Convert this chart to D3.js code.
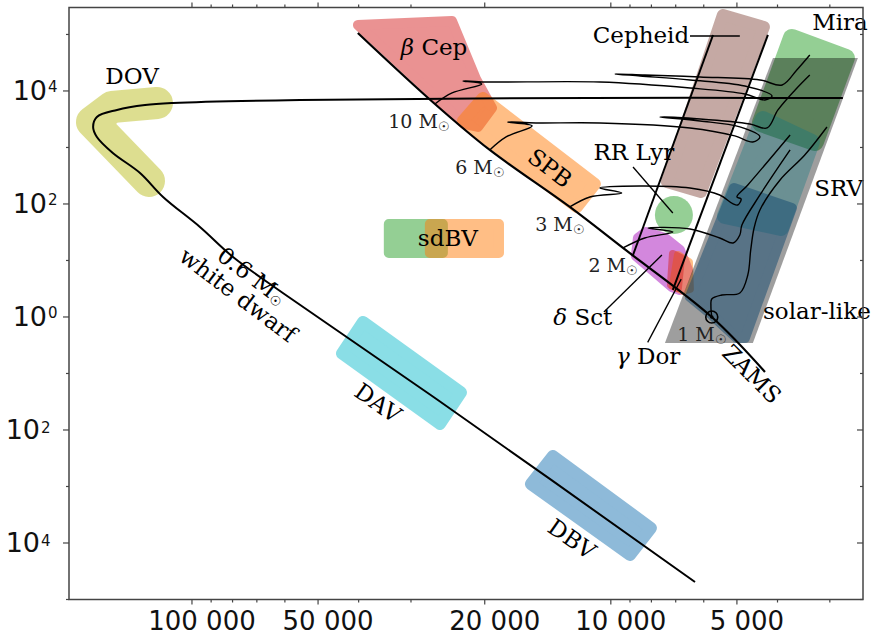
<!DOCTYPE html>
<html>
<head>
<meta charset="utf-8">
<script src="https://cdn.jsdelivr.net/npm/d3@7"></script>
<style>
  body { margin: 0; background: #fff; }
  svg { display: block; }
</style>
</head>
<body>
<svg id="chart" width="873" height="637"></svg>
<script>
// ---- Axis ticks -------------------------------------------------------
const xTickTeff = [100000, 50000, 20000, 10000, 5000];
const xTickText = ["100 000", "50 000", "20 000", "10 000", "5 000"];
const yTickExp = [4, 2, 0, -2, -4];
const yTickSup = ["4", "2", "0", "2", "4"];

// ---- Lines: [log10 Teff, log10 L/Lsun] ---------------------------------
const zams = [[4.604, 5.027], [4.420, 3.770], [4.289, 2.956], [4.098, 1.947],
              [3.971, 1.221], [3.759, 0.0], [3.632, -0.973]];
const zamsMasses = ["10", "6", "3", "2", "1"];
const zamsMassAt = [[4.420, 3.770], [4.289, 2.956], [4.098, 1.947], [3.971, 1.221], [3.759, 0.0]];

const track10 = [[4.420, 3.770], [4.379, 3.965], [4.308, 4.124], [4.353, 4.177], [4.300, 4.159],
  [4.026, 4.159], [3.811, 4.053], [3.680, 3.947], [3.632, 3.841], [3.615, 3.912], [3.680, 4.088],
  [3.811, 4.195], [3.930, 4.265], [3.990, 4.301], [3.919, 4.283], [3.787, 4.248], [3.644, 4.195],
  [3.591, 4.106], [3.556, 4.372], [3.525, 4.637]];
const track6 = [[4.289, 2.956], [4.250, 3.186], [4.188, 3.381], [4.246, 3.451], [4.179, 3.434],
  [4.026, 3.434], [3.811, 3.345], [3.704, 3.204], [3.661, 3.097], [3.644, 3.186], [3.692, 3.363],
  [3.787, 3.469], [3.883, 3.540], [3.787, 3.504], [3.668, 3.416], [3.627, 3.345], [3.601, 3.664],
  [3.560, 4.018], [3.525, 4.283]];
const track3 = [[4.098, 1.947], [4.050, 2.124], [3.974, 2.195], [4.026, 2.283], [3.930, 2.319],
  [3.811, 2.283], [3.740, 2.159], [3.708, 2.000], [3.697, 1.982], [3.689, 2.088], [3.699, 2.124],
  [3.673, 2.336], [3.572, 3.221]];
const track2 = [[3.971, 1.221], [3.919, 1.398], [3.852, 1.504], [3.911, 1.575], [3.811, 1.558],
  [3.740, 1.398], [3.708, 1.310], [3.692, 1.451], [3.687, 1.628], [3.644, 2.159], [3.572, 2.956]];
const track1 = [[3.759, 0.0], [3.761, 0.195], [3.759, 0.319], [3.735, 0.389], [3.692, 0.425],
  [3.673, 0.743], [3.666, 1.186], [3.658, 1.575], [3.644, 1.894], [3.596, 2.425], [3.537, 2.867],
  [3.484, 3.363]];
// 0.6 Msun post-AGB and white-dwarf cooling track
const wdTrack = [[3.446, 3.876], [4.050, 3.876], [4.742, 3.841], [5.045, 3.788], [5.112, 3.752],
  [5.179, 3.664], [5.227, 3.540], [5.236, 3.363], [5.227, 3.186], [5.189, 2.903], [5.124, 2.549],
  [5.069, 2.124], [4.981, 1.593], [4.902, 1.062], [4.783, 0.425], [4.413, -1.469], [3.799, -4.690]];

// Classical instability strip edges
const blueEdge = [[3.756, 4.991], [3.947, 1.097]];
const redEdge = [[3.625, 4.991], [3.852, 0.478]];

// Label leader lines
const cepheidLeader = [[3.811, 4.973], [3.692, 4.973]];
const rrLyrLeader = [[3.947, 2.655], [3.852, 1.841]];
const dSctLeader = [[4.0165, 0.088], [3.878, 1.097]];
const gDorLeader = [[3.912, -0.450], [3.832, 0.670]];

// ---- Pulsator regions ------------------------------------------------
const dovPath = [[5.0836, 3.788], [5.191, 3.717], [5.2387, 3.451], [5.1026, 2.407]];
const davBox = [[4.5918, -0.088], [4.3578, -1.336], [4.408, -1.894], [4.6419, -0.646]];
const dbvBox = [[4.1382, -2.460], [3.9043, -3.735], [3.9544, -4.212], [4.1907, -2.956]];
const bCepBox = [[4.6037, 5.168], [4.3793, 5.239], [4.322, 4.212], [4.2838, 3.699],
                 [4.3173, 3.363], [4.3507, 3.416], [4.4032, 3.788]];
const spbBox = [[4.3053, 3.876], [4.038, 2.354], [4.081, 1.947], [4.3531, 3.469]];
const sdbvGreen = [[4.530, 1.646], [4.401, 1.646], [4.401, 1.133], [4.530, 1.133]];
const sdbvOrange = [[4.432, 1.646], [4.267, 1.646], [4.267, 1.133], [4.432, 1.133]];
const cepheidBox = [[3.7324, 5.345], [3.6345, 5.133], [3.7849, 2.212], [3.8661, 2.389]];
const rrLyrCentre = [3.8494, 1.805];
const dSctBox = [[3.9162, 1.504], [3.8708, 1.398], [3.835, 1.186], [3.8159, 0.832], [3.835, 0.478],
                 [3.8541, 0.531], [3.9401, 1.080], [3.9353, 1.398]];
const gDorOrange = [[3.8398, 1.097], [3.8135, 0.973], [3.8112, 0.496], [3.8279, 0.460], [3.8517, 0.549]];
const gDorRed = [[3.8517, 1.115], [3.8327, 1.044], [3.8398, 0.513], [3.8565, 0.566]];
const miraBox = [[3.5677, 4.938], [3.4388, 4.584], [3.5128, 3.097], [3.6417, 3.434]];
const srvBox = [[3.6369, 3.504], [3.520, 3.097], [3.594, 1.575], [3.7277, 1.788]];
const solarBox = [[3.7061, 2.283], [3.5677, 1.929], [3.6799, -0.372], [3.699, -0.372],
                  [3.7587, 0.035], [3.8112, 0.354]];
const coolBand = [[3.8708, -0.460], [3.6608, -0.460], [3.4102, 4.584], [3.613, 4.584]];

// ---- Region names -----------------------------------------------------
const labels = [
  { greek: "", text: "DOV", at: [5.143, 4.124] },
  { greek: "β", text: " Cep", at: [4.422, 4.637] },
  { greek: "", text: "Cepheid", at: [3.928, 4.850] },
  { greek: "", text: "Mira", at: [3.453, 5.080] },
  { greek: "", text: "RR Lyr", at: [3.945, 2.779] },
  { greek: "", text: "SPB", at: [4.1454, 2.637], rot: 37 },
  { greek: "", text: "SRV", at: [3.456, 2.142] },
  { greek: "", text: "sdBV", at: [4.389, 1.257] },
  { greek: "δ", text: " Sct", at: [4.067, -0.142] },
  { greek: "γ", text: " Dor", at: [3.911, -0.832] },
  { greek: "", text: "solar-like", at: [3.508, -0.035] },
  { greek: "", text: "ZAMS", at: [3.6632, -1.009], rot: 45 },
  { greek: "", text: "DAV", at: [4.556, -1.522], rot: 35 },
  { greek: "", text: "DBV", at: [4.0929, -3.929], rot: 35 },
  { greek: "", text: "white dwarf", at: [4.8902, 0.389], rot: 37 }
];
const wdMassLabel = { text: "0.6 M", at: [4.8568, 0.726], rot: 37 };

// ---- Scales -----------------------------------------------------------
const X0 = 69, X1 = 863, Y0 = 7.5, Y1 = 599.5;
const x = d3.scaleLinear().domain([Math.log10(196600), Math.log10(2500)]).range([X0, X1]);
const y = d3.scaleLinear().domain([-5, Math.log10(3e5)]).range([Y1, Y0]);

const svg = d3.select("#chart");
const line = d3.line().x(d => x(d[0])).y(d => y(d[1]));
const smooth = d3.line().x(d => x(d[0])).y(d => y(d[1])).curve(d3.curveCatmullRom.alpha(0.5));

const SERIF = "'DejaVu Serif', serif";
const SANS = "'DejaVu Sans', sans-serif";

// Translucent region with rounded corners
function region(pts, color, op, r) {
  const g = svg.append("g").attr("opacity", op);
  g.append("path")
    .attr("d", line(pts) + "Z")
    .attr("fill", color)
    .attr("stroke", color)
    .attr("stroke-width", 2 * r)
    .attr("stroke-linejoin", "round");
}

// DOV: broad rounded band along the knee of the track
svg.append("g").attr("opacity", 0.5)
  .append("path").attr("d", line(dovPath))
  .attr("fill", "none").attr("stroke", "#bcbd22").attr("stroke-width", 32)
  .attr("stroke-linecap", "round").attr("stroke-linejoin", "round");

region(davBox, "#17becf", 0.5, 6);
region(dbvBox, "#1f77b4", 0.5, 6);
region(bCepBox, "#d62728", 0.5, 5);
region(spbBox, "#ff7f0e", 0.5, 6);
region(sdbvGreen, "#2ca02c", 0.5, 5);
region(sdbvOrange, "#ff7f0e", 0.5, 5);
region(cepheidBox, "#8c564b", 0.5, 6);
svg.append("circle").attr("cx", x(rrLyrCentre[0])).attr("cy", y(rrLyrCentre[1])).attr("r", 19)
  .attr("fill", "#2ca02c").attr("opacity", 0.5);
region(dSctBox, "#a812bd", 0.5, 5);
region(gDorOrange, "#ff7f0e", 0.5, 4);
region(gDorRed, "#d62728", 0.5, 4);
region(miraBox, "#2ca02c", 0.5, 9);
region(srvBox, "#17becf", 0.35, 8);
region(solarBox, "#1f77b4", 0.5, 5);
svg.append("path").attr("d", line(coolBand) + "Z").attr("fill", "#000").attr("opacity", 0.38);

// ---- Lines ------------------------------------------------------------
function stroke(pts, w, gen) {
  svg.append("path").attr("d", (gen || line)(pts)).attr("fill", "none")
    .attr("stroke", "#000").attr("stroke-width", w)
    .attr("stroke-linejoin", "round").attr("stroke-linecap", "butt");
}
[track10, track6, track3, track2, track1].forEach(t => stroke(t, 1.4, smooth));
stroke(wdTrack, 2, smooth);
stroke(zams, 2.2, smooth);
stroke(blueEdge, 2);
stroke(redEdge, 2);
[cepheidLeader, rrLyrLeader, dSctLeader, gDorLeader].forEach(t => stroke(t, 1.3));

// Sun symbol at 1 Msun on the ZAMS
const sun = zamsMassAt[4];
svg.append("circle").attr("cx", x(sun[0])).attr("cy", y(sun[1])).attr("r", 6)
  .attr("fill", "none").attr("stroke", "#000").attr("stroke-width", 1.6);
svg.append("circle").attr("cx", x(sun[0])).attr("cy", y(sun[1])).attr("r", 1.8).attr("fill", "#000");

// ---- Texts ------------------------------------------------------------
function addLabel(l, size) {
  const px = x(l.at[0]), py = y(l.at[1]);
  const t = svg.append("text")
    .attr("transform", `translate(${px},${py})` + (l.rot ? ` rotate(${l.rot})` : ""))
    .attr("text-anchor", "middle")
    .attr("dominant-baseline", l.rot ? "central" : "alphabetic")
    .attr("font-family", SERIF).attr("font-size", size).attr("fill", "#000");
  if (l.greek) t.append("tspan").attr("font-style", "italic").text(l.greek);
  t.append("tspan").text(l.text);
  return t;
}
labels.forEach(l => addLabel(l, 23));
const wdm = addLabel(wdMassLabel, 23);
wdm.append("tspan").attr("font-size", 13).attr("dy", 5).text("☉");

// Mass labels along the ZAMS
zamsMasses.forEach((m, i) => {
  const p = zamsMassAt[i];
  const t = svg.append("text")
    .attr("x", x(p[0]) + 15).attr("y", y(p[1]) + 24)
    .attr("text-anchor", "end")
    .attr("font-family", SERIF).attr("font-size", 19).attr("fill", "#222");
  t.append("tspan").text(m + " M");
  t.append("tspan").attr("font-size", 13).attr("dy", 3).text("☉");
});

// ---- Axes frame and ticks ------------------------------------------------
const axisColor = "#444";
svg.append("rect").attr("x", X0).attr("y", Y0).attr("width", X1 - X0).attr("height", Y1 - Y0)
  .attr("fill", "none").attr("stroke", axisColor).attr("stroke-width", 1.5);

const xTicks = [];
for (let dec = 3; dec <= 5; dec++)
  for (let k = 1; k <= 9; k++) {
    const v = Math.log10(k * Math.pow(10, dec));
    if (v <= x.domain()[0] && v >= x.domain()[1]) xTicks.push(v);
  }
const xMajor = xTickTeff.map(v => Math.log10(v));
xTicks.forEach(v => {
  const major = xMajor.some(m => Math.abs(m - v) < 1e-9);
  const len = major ? 5 : 3;
  svg.append("line").attr("x1", x(v)).attr("x2", x(v)).attr("y1", Y1).attr("y2", Y1 + len)
    .attr("stroke", axisColor).attr("stroke-width", 1.2);
  svg.append("line").attr("x1", x(v)).attr("x2", x(v)).attr("y1", Y0).attr("y2", Y0 - len)
    .attr("stroke", axisColor).attr("stroke-width", 1.2);
});
xTickTeff.forEach((v, i) => {
  svg.append("text").attr("x", x(Math.log10(v)) + 10).attr("y", 630)
    .attr("text-anchor", "middle").attr("font-family", SANS).attr("font-size", 26)
    .attr("fill", "#111").text(xTickText[i]);
});

for (let e = -5; e <= 5; e++) {
  const major = e % 2 === 0;
  const len = major ? 6 : 3;
  svg.append("line").attr("x1", X0 - len).attr("x2", X0).attr("y1", y(e)).attr("y2", y(e))
    .attr("stroke", axisColor).attr("stroke-width", 1.2);
  svg.append("line").attr("x1", X1 - len).attr("x2", X1).attr("y1", y(e)).attr("y2", y(e))
    .attr("stroke", axisColor).attr("stroke-width", 1.2);
}
yTickExp.forEach((e, i) => {
  const ty = y(e);
  const neg = e < 0;
  svg.append("text").attr("x", neg ? 40 : 47).attr("y", ty + 9)
    .attr("text-anchor", "end").attr("font-family", SANS).attr("font-size", 27)
    .attr("fill", "#111").text("10");
  svg.append("text").attr("x", neg ? 41 : 48).attr("y", ty + (neg ? 3 : 1))
    .attr("text-anchor", "start").attr("font-family", SANS).attr("font-size", 15)
    .attr("fill", "#111").text(yTickSup[i]);
});
</script>
</body>
</html>
